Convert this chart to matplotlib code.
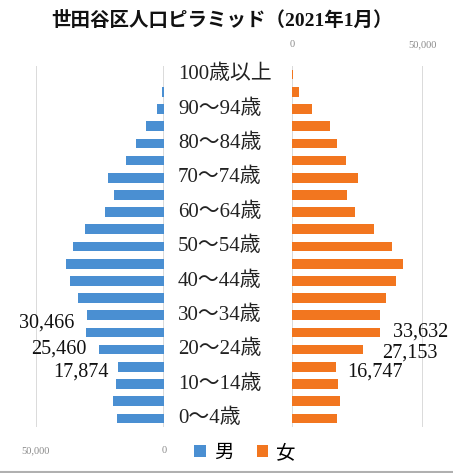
import matplotlib
matplotlib.use("Agg")
import matplotlib.pyplot as plt
from matplotlib.patches import Patch
from matplotlib.lines import Line2D

plt.rcParams['font.family'] = ['Liberation Serif', 'Noto Sans CJK JP', 'DejaVu Sans']

# Age groups from youngest to oldest
age_groups = ["0～4歳", "5～9歳", "10～14歳", "15～19歳", "20～24歳", "25～29歳",
              "30～34歳", "35～39歳", "40～44歳", "45～49歳", "50～54歳", "55～59歳",
              "60～64歳", "65～69歳", "70～74歳", "75～79歳", "80～84歳", "85～89歳",
              "90～94歳", "95～99歳", "100歳以上"]

male = [18200, 19800, 18600, 17874, 25460, 30466, 30200, 33700, 36800, 38400,
        35700, 31000, 22900, 19400, 21700, 14700, 10900, 7000, 2700, 600, 100]
female = [17200, 18300, 17500, 16747, 27153, 33632, 33600, 35900, 39700, 42400,
          38200, 31300, 24000, 21000, 25200, 20600, 17200, 14500, 7600, 2700, 400]

# Groups whose values are written next to the bars, with text offsets (px)
labeled_groups = [5, 4, 3]
male_offsets = [(-12, 9), (-12, 1), (-10, -5)]
female_offsets = [(13, 0), (19, -3), (11, -5)]

axis_max = 50000
tick_values = [0, 50000]
tick_labels = ["0", "50,000"]

male_color = "#4a8fd2"
female_color = "#f2761f"
grid_color = "#d4d4d4"
tick_color = "#8a8a8a"

fig = plt.figure(figsize=(4.53, 4.73), dpi=100)

ax_m = fig.add_axes([36 / 453, 1 - 427 / 473, 128 / 453, 361 / 473])
ax_f = fig.add_axes([292 / 453, 1 - 427 / 473, 131 / 453, 361 / 473])

y = list(range(len(age_groups)))
bar_h = 0.56

ax_m.barh(y, male, height=bar_h, color=male_color, zorder=3)
ax_f.barh(y, female, height=bar_h, color=female_color, zorder=3)

for ax in (ax_m, ax_f):
    ax.set_ylim(-0.5, len(age_groups) - 0.5)
    ax.set_yticks([])
    for s in ax.spines.values():
        s.set_visible(False)
    ax.set_xticks(tick_values)
    ax.set_xticklabels(tick_labels)
    ax.tick_params(axis='x', length=0, labelsize=7.5, labelcolor=tick_color, pad=14)
    ax.grid(axis='x', color=grid_color, linewidth=1.2, zorder=0)
    ax.set_facecolor('none')

ax_m.set_xlim(axis_max, 0)
ax_f.set_xlim(0, axis_max)
ax_f.xaxis.tick_top()
ax_f.tick_params(axis='x', pad=12)

# Age labels in the central column (every other group)
for i, lab in enumerate(age_groups):
    if i % 2 == 0:
        ax_m.annotate(lab, xy=(1, i), xycoords=('axes fraction', 'data'),
                      xytext=(178 - 164, 0), textcoords='offset pixels',
                      ha='left', va='center', fontsize=15, color='#222222')

# Value labels
for g, off in zip(labeled_groups, male_offsets):
    ax_m.annotate(f"{male[g]:,}", xy=(male[g], g), xytext=off,
                  textcoords='offset pixels', ha='right', va='center',
                  fontsize=14.5, color='#111111')
for g, off in zip(labeled_groups, female_offsets):
    ax_f.annotate(f"{female[g]:,}", xy=(female[g], g), xytext=off,
                  textcoords='offset pixels', ha='left', va='center',
                  fontsize=14.5, color='#111111')

fig.text(222 / 453, 1 - 20 / 473, "世田谷区人口ピラミッド（2021年1月）",
         ha='center', va='center', fontsize=14, fontweight='bold', color='#111111')

handles = [Patch(facecolor=male_color, label="男"), Patch(facecolor=female_color, label="女")]
fig.legend(handles=handles, loc='center', bbox_to_anchor=(245 / 453, 1 - 453 / 473),
           ncol=2, frameon=False, fontsize=14, handlelength=0.6, handleheight=0.6,
           handletextpad=0.4, columnspacing=1.2)

fig.add_artist(Line2D([0, 1], [0.002, 0.002], color='#b0b0b0', linewidth=1.5,
                      transform=fig.transFigure))

fig.savefig("out.png", dpi=100)
